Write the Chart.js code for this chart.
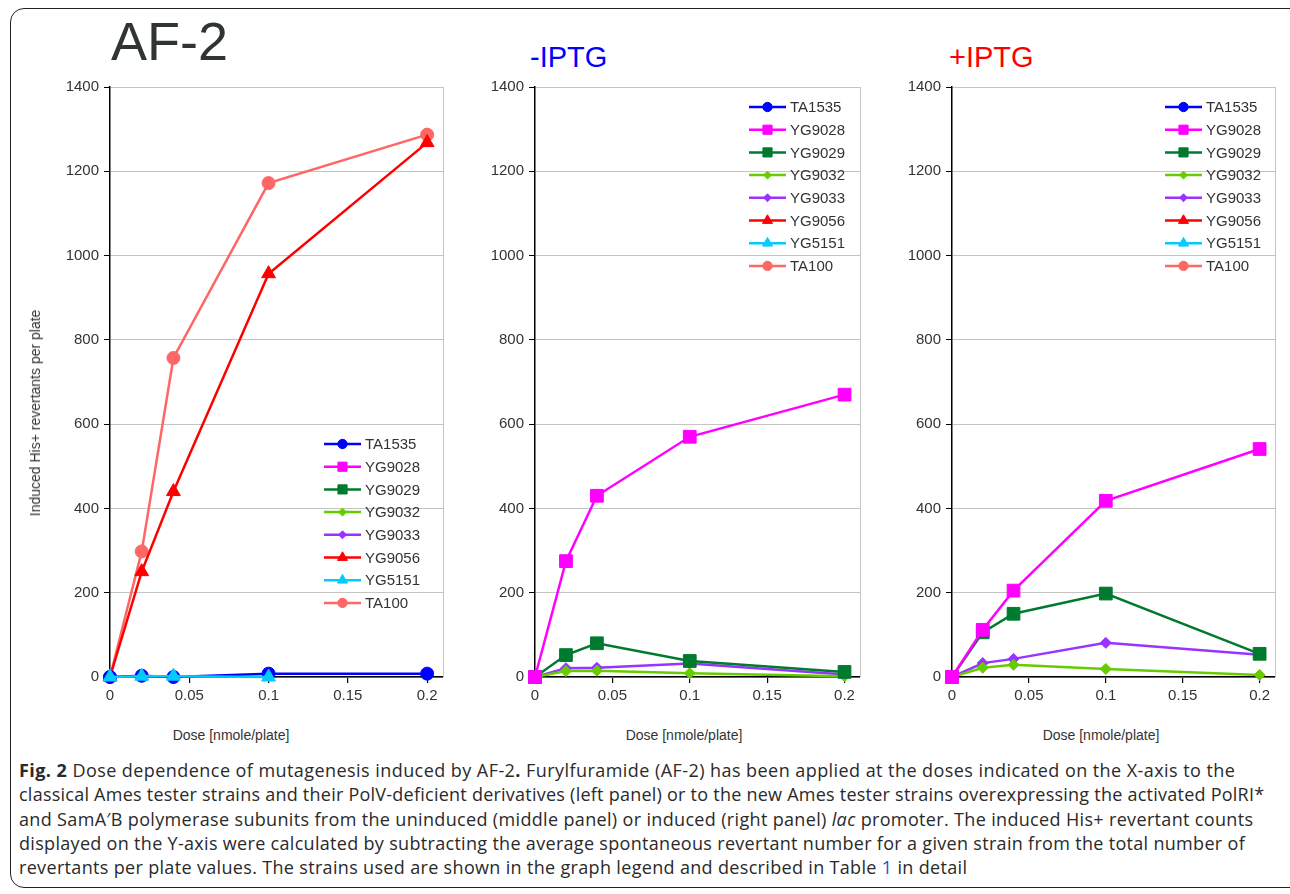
<!DOCTYPE html>
<html>
<head>
<meta charset="utf-8">
<script src="https://cdn.jsdelivr.net/npm/chart.js@4.4.1/dist/chart.umd.min.js"></script>
<style>
  html, body { margin:0; padding:0; background:#fff; }
  body { width:1290px; height:894px; position:relative; overflow:hidden; font-family:"Liberation Sans", Arial, sans-serif; }
  #frame { position:absolute; left:10px; top:8px; width:1310px; height:880px; border:1.5px solid #222; border-radius:14px; box-sizing:border-box; }
  canvas { position:absolute; }
  .ptitle { position:absolute; white-space:nowrap; line-height:1; }
  .xtitle { position:absolute; font-size:14px; color:#333; white-space:nowrap; transform:translateX(-50%); }
  .ytitle { position:absolute; font-size:14px; color:#333; white-space:nowrap; transform:translate(-50%,-50%) rotate(-90deg); }
  #caption { position:absolute; left:19px; top:758px; font-family:"Open Sans", "Noto Sans", sans-serif; font-size:18px; line-height:24.3px; color:#2a2a2a; }
  #caption div { white-space:nowrap; }
</style>
</head>
<body>
<div id="frame"></div>
<div class="ptitle" style="left:111px; top:14px; font-size:54px; color:#2f3436;">AF-2</div>
<div class="ptitle" style="left:530px; top:43px; font-size:29px; color:#0000ff;">-IPTG</div>
<div class="ptitle" style="left:949px; top:43px; font-size:29px; color:#ff0000;">+IPTG</div>

<canvas id="c1" width="440" height="640" style="left:20px; top:70px;"></canvas>
<canvas id="c2" width="420" height="640" style="left:460px; top:70px;"></canvas>
<canvas id="c3" width="410" height="640" style="left:880px; top:70px;"></canvas>

<div class="ytitle" style="left:35px; top:413px;">Induced His+ revertants per plate</div>
<div class="xtitle" style="left:231px; top:727px;">Dose [nmole/plate]</div>
<div class="xtitle" style="left:684px; top:727px;">Dose [nmole/plate]</div>
<div class="xtitle" style="left:1101px; top:727px;">Dose [nmole/plate]</div>

<div id="caption">
<div style="letter-spacing:0.44px"><b>Fig. 2</b> Dose dependence of mutagenesis induced by AF-2<b>.</b> Furylfuramide (AF-2) has been applied at the doses indicated on the X-axis to the</div>
<div style="letter-spacing:0.24px">classical Ames tester strains and their PolV-deficient derivatives (left panel) or to the new Ames tester strains overexpressing the activated PolRI*</div>
<div style="letter-spacing:0.34px">and SamA′B polymerase subunits from the uninduced (middle panel) or induced (right panel) <i>lac</i> promoter. The induced His+ revertant counts</div>
<div style="letter-spacing:0.31px">displayed on the Y-axis were calculated by subtracting the average spontaneous revertant number for a given strain from the total number of</div>
<div style="letter-spacing:0.33px">revertants per plate values. The strains used are shown in the graph legend and described in Table <span style="color:#1a4fd6">1</span> in detail</div>
</div>

<script>
// ---------------- DATA ----------------
const doses = [0, 0.02, 0.04, 0.1, 0.2];
const strains = ['TA1535', 'YG9028', 'YG9029', 'YG9032', 'YG9033', 'YG9056', 'YG5151', 'TA100'];
const yTicks = [0, 200, 400, 600, 800, 1000, 1200, 1400];
const xTicks = [0, 0.05, 0.1, 0.15, 0.2];

// Left panel (AF-2, classical strains)
const af2_TA1535 = [0, 3, 0, 8, 8];
const af2_YG9056 = [0, 250, 440, 957, 1268];
const af2_YG5151 = [0, 2, 2, 0];
const af2_TA100  = [0, 298, 757, 1172, 1287];

// Middle panel (-IPTG)
const minus_YG9028 = [0, 275, 430, 570, 670];
const minus_YG9029 = [0, 52, 80, 38, 12];
const minus_YG9032 = [0, 14, 15, 9, 2];
const minus_YG9033 = [0, 21, 22, 32, 6];

// Right panel (+IPTG)
const plus_YG9028 = [0, 112, 205, 418, 541];
const plus_YG9029 = [0, 106, 150, 198, 55];
const plus_YG9032 = [0, 22, 29, 19, 5];
const plus_YG9033 = [0, 33, 43, 81, 53];

const panelLeft  = { TA1535: af2_TA1535, YG9056: af2_YG9056, YG5151: af2_YG5151, TA100: af2_TA100 };
const panelMinus = { YG9028: minus_YG9028, YG9029: minus_YG9029, YG9032: minus_YG9032, YG9033: minus_YG9033 };
const panelPlus  = { YG9028: plus_YG9028, YG9029: plus_YG9029, YG9032: plus_YG9032, YG9033: plus_YG9033 };

// ---------------- STYLES ----------------
const styles = {
  TA1535: { color: '#0000ff', point: 'circle',   r: 6.5, order: 0 },
  YG9028: { color: '#ff00ff', point: 'rect',     r: 9,   order: 1 },
  YG9029: { color: '#007a2e', point: 'rect',     r: 9,   order: 2 },
  YG9032: { color: '#66cc00', point: 'rectRot',  r: 5.5, order: 3 },
  YG9033: { color: '#9933ff', point: 'rectRot',  r: 5.5, order: 4 },
  YG9056: { color: '#ff0000', point: 'triangle', r: 8,   order: 5 },
  YG5151: { color: '#00ccff', point: 'triangle', r: 8,   order: -1 },
  TA100:  { color: '#ff6666', point: 'circle',   r: 6.5, order: 7 }
};

function buildDatasets(panel) {
  return strains.map(name => {
    const vals = panel[name] || [];
    const s = styles[name];
    return {
      label: name,
      data: vals.map((v, i) => ({ x: doses[i], y: v })),
      borderColor: s.color,
      backgroundColor: s.color,
      pointBackgroundColor: s.color,
      pointBorderColor: s.color,
      pointStyle: s.point,
      pointRadius: s.r,
      pointBorderWidth: 1,
      borderWidth: 2.5,
      tension: 0,
      clip: false,
      order: s.order,
      _legendR: s.r * 0.72
    };
  });
}

// legend drawn inside the plot area, using the datasets' own styles
const insideLegend = {
  id: 'insideLegend',
  afterDatasetsDraw(chart, args, opts) {
    const ctx = chart.ctx, area = chart.chartArea;
    const x0 = area.right - opts.offsetRight;
    let y = area.top + opts.offsetTop;
    chart.data.datasets.forEach(ds => {
      ctx.save();
      ctx.strokeStyle = ds.borderColor;
      ctx.lineWidth = 2.5;
      ctx.beginPath(); ctx.moveTo(x0, y); ctx.lineTo(x0 + 37, y); ctx.stroke();
      ctx.fillStyle = ds.backgroundColor;
      ctx.strokeStyle = ds.borderColor;
      ctx.lineWidth = 1;
      Chart.helpers.drawPoint(ctx, { pointStyle: ds.pointStyle, radius: ds._legendR, rotation: 0, borderWidth: 1 }, x0 + 18.5, y);
      ctx.fillStyle = '#333';
      ctx.font = '15px "Liberation Sans", Arial, sans-serif';
      ctx.textBaseline = 'middle';
      ctx.textAlign = 'left';
      ctx.fillText(ds.label, x0 + 41, y + 1);
      ctx.restore();
      y += opts.spacing;
    });
  }
};

const areaBorder = {
  id: 'areaBorder',
  beforeDatasetsDraw(chart) {
    const ctx = chart.ctx, a = chart.chartArea;
    ctx.save();
    ctx.strokeStyle = '#c4c4c4';
    ctx.lineWidth = 1;
    ctx.beginPath(); ctx.moveTo(Math.round(a.right) + 0.5, a.top); ctx.lineTo(Math.round(a.right) + 0.5, a.bottom); ctx.stroke();
    ctx.restore();
  }
};

function makeChart(id, panel, yWidth, padRight, legOff) {
  const tickFont = { family: '"Liberation Sans", Arial, sans-serif', size: 15 };
  return new Chart(document.getElementById(id), {
    type: 'line',
    data: { datasets: buildDatasets(panel) },
    plugins: [areaBorder, insideLegend],
    options: {
      responsive: false,
      devicePixelRatio: 1,
      animation: false,
      events: [],
      layout: { padding: { top: 17, right: padRight, bottom: 0, left: 0 } },
      plugins: {
        legend: { display: false },
        tooltip: { enabled: false },
        insideLegend: legOff
      },
      scales: {
        x: {
          type: 'linear',
          min: 0, max: 0.21,
          afterBuildTicks: s => { s.ticks = xTicks.map(v => ({ value: v })); },
          afterFit: s => { s.height = 33; },
          ticks: {
            font: tickFont, color: '#333', padding: 4, maxRotation: 0,
            callback: v => String(+v.toFixed(2))
          },
          grid: { drawOnChartArea: false, drawTicks: true, tickLength: 6, tickColor: '#000', lineWidth: 1.2 },
          border: { display: true, color: '#000', width: 1.5 }
        },
        y: {
          type: 'linear',
          min: 0, max: 1400,
          afterBuildTicks: s => { s.ticks = yTicks.map(v => ({ value: v })); },
          afterFit: s => { s.width = yWidth; },
          ticks: { font: tickFont, color: '#333', padding: 5, callback: v => String(v) },
          grid: { color: '#c4c4c4', lineWidth: 1, drawTicks: true, tickLength: 6, tickColor: '#000' },
          border: { display: true, color: '#000', width: 1.5 }
        }
      }
    }
  });
}

makeChart('c1', panelLeft, 90, 17, { offsetRight: 119, offsetTop: 357, spacing: 22.7 });
makeChart('c2', panelMinus, 75, 20, { offsetRight: 111, offsetTop: 20, spacing: 22.7 });
makeChart('c3', panelPlus, 72, 15, { offsetRight: 110, offsetTop: 20, spacing: 22.7 });
</script>
</body>
</html>
